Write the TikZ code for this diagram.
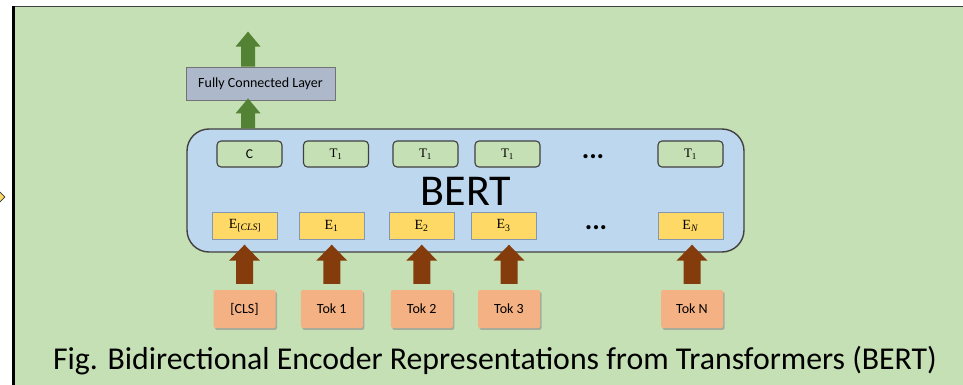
\documentclass[tikz,border=0pt]{standalone}
\usepackage{fontspec}
\setmainfont{Carlito}
\newfontfamily\symserif{Liberation Serif}
\usetikzlibrary{calc,shadows,shapes.geometric}

\definecolor{panelgreen}{HTML}{C5E0B4}
\definecolor{bertblue}{HTML}{BDD7EE}
\definecolor{embyellow}{HTML}{FFD966}
\definecolor{tokorange}{HTML}{F4B183}
\definecolor{arrowbrown}{HTML}{843C0C}
\definecolor{arrowgreen}{HTML}{548235}
\definecolor{fcgray}{HTML}{ADB9CA}
\definecolor{edgegray}{HTML}{404040}
\definecolor{embedge}{HTML}{8497B0}

% block arrow: style, base point, tip point, shaft half width, head half width, head length
\newcommand{\fatarrow}[6]{%
  \fill[#1] let \p1=(#2), \p2=(#3) in
    (\x1-#4,\y1) -- (\x1-#4,\y2-#6) -- (\x1-#5,\y2-#6) -- (\x1,\y2)
    -- (\x1+#5,\y2-#6) -- (\x1+#4,\y2-#6) -- (\x1+#4,\y1) -- cycle;}

\tikzset{
  outbox/.style={draw=edgegray, line width=1.1pt, fill=panelgreen, rounded corners=4pt,
    minimum width=65pt, minimum height=26pt, inner sep=0pt,
    font=\symserif\fontsize{13}{15}\selectfont},
  embbox/.style={draw=embedge, line width=0.9pt, fill=embyellow,
    minimum width=65pt, minimum height=27pt, inner sep=0pt,
    font=\symserif\fontsize{14}{16}\selectfont},
  tokbox/.style={fill=tokorange, rounded corners=1.5pt,
    minimum width=62pt, minimum height=38pt, inner sep=0pt,
    drop shadow={shadow xshift=1.5pt, shadow yshift=-1.8pt, fill=black!45, opacity=0.6},
    font=\fontsize{14}{16}\selectfont},
  dotsnode/.style={font=\bfseries\fontsize{28}{30}\selectfont, inner sep=0pt, anchor=base},
}

\begin{document}
\begin{tikzpicture}[x=1pt,y=-1pt]
\useasboundingbox (0,0) rectangle (963,385);

% panel background and its border
\fill[panelgreen] (13,6) rectangle (963,385);
\draw[line width=1.6pt, black!75] (12,6.6) -- (963,6.6);
\draw[line width=3pt, black] (13.5,5.8) -- (13.5,385);

% small marker cut by the left margin
\node[diamond, draw=black!80, fill=embyellow, line width=0.8pt, minimum width=12pt,
  minimum height=12pt, inner sep=0pt] (marker) at (-1,197) {};

% BERT body
\node[draw=edgegray, line width=1.4pt, fill=bertblue, rounded corners=22pt,
  minimum width=557pt, minimum height=123pt, inner sep=0pt] (bert) at (465.5,190.5) {};
\node[font=\fontsize{44}{46}\selectfont, anchor=base, inner sep=0pt] (berttitle) at (466,205) {BERT};

% output row
\node[outbox, font=\fontsize{13.5}{15}\selectfont] (oc) at (249.5,154) {C};
\node[outbox] (o1) at (336,154) {T\textsubscript{1}};
\node[outbox] (o2) at (425.5,154) {T\textsubscript{1}};
\node[outbox] (o3) at (507.5,154) {T\textsubscript{1}};
\node[dotsnode] (odots) at (593,158) {...};
\node[outbox] (on) at (690.5,154) {T\textsubscript{1}};

% embedding row
\node[embbox] (ecls) at (245,225.5) {E\textsubscript{[\textit{CLS}]}};
\node[embbox] (e1) at (331.5,225.5) {E\textsubscript{1}};
\node[embbox] (e2) at (421.5,225.5) {E\textsubscript{2}};
\node[embbox] (e3) at (503.5,225.5) {E\textsubscript{3}};
\node[dotsnode] (edots) at (596,229) {...};
\node[embbox] (en) at (690.5,225.5) {E\textsubscript{\textit{N}}};

% input tokens
\node[tokbox] (tcls) at (244.5,309) {[CLS]};
\node[tokbox] (t1) at (331.75,309) {Tok 1};
\node[tokbox] (t2) at (421.75,309) {Tok 2};
\node[tokbox] (t3) at (509,309) {Tok 3};
\node[tokbox] (tn) at (692,309) {Tok N};

% fully connected layer
\node[draw=black!55, line width=0.8pt, fill=fcgray, minimum width=149pt, minimum height=33pt,
  inner sep=0pt, font=\fontsize{14}{16}\selectfont] (fc) at (260.5,83.5) {Fully Connected Layer};

% input arrows into BERT
\foreach \t in {tcls,t1,t2,t3,tn}{
  \coordinate (base-\t) at ($(\t.north)+(0,-6)$);
  \coordinate (tip-\t) at ($(\t.north |- bert.south)+(0,-8)$);
  \fatarrow{arrowbrown}{base-\t}{tip-\t}{8.5pt}{15.5pt}{16pt}
}

% output arrows through the fully connected layer
\coordinate (gx) at (248,0);
\coordinate (gbase1) at (gx |- bert.north);
\coordinate (gtip1) at ($(gx |- fc.south)+(0,-2)$);
\coordinate (gbase2) at (gx |- fc.north);
\coordinate (gtip2) at ($(gx |- fc.north)+(0,-35)$);
\fatarrow{arrowgreen}{gbase1}{gtip1}{7pt}{12.5pt}{15pt}
\fatarrow{arrowgreen}{gbase2}{gtip2}{7pt}{12.5pt}{15pt}

% caption
\node[font=\fontsize{31.8}{34}\selectfont, anchor=base, inner sep=0pt] (caption) at (495,369)
  {Fig. Bidirectional Encoder Representations from Transformers (BERT)};
\end{tikzpicture}
\end{document}
